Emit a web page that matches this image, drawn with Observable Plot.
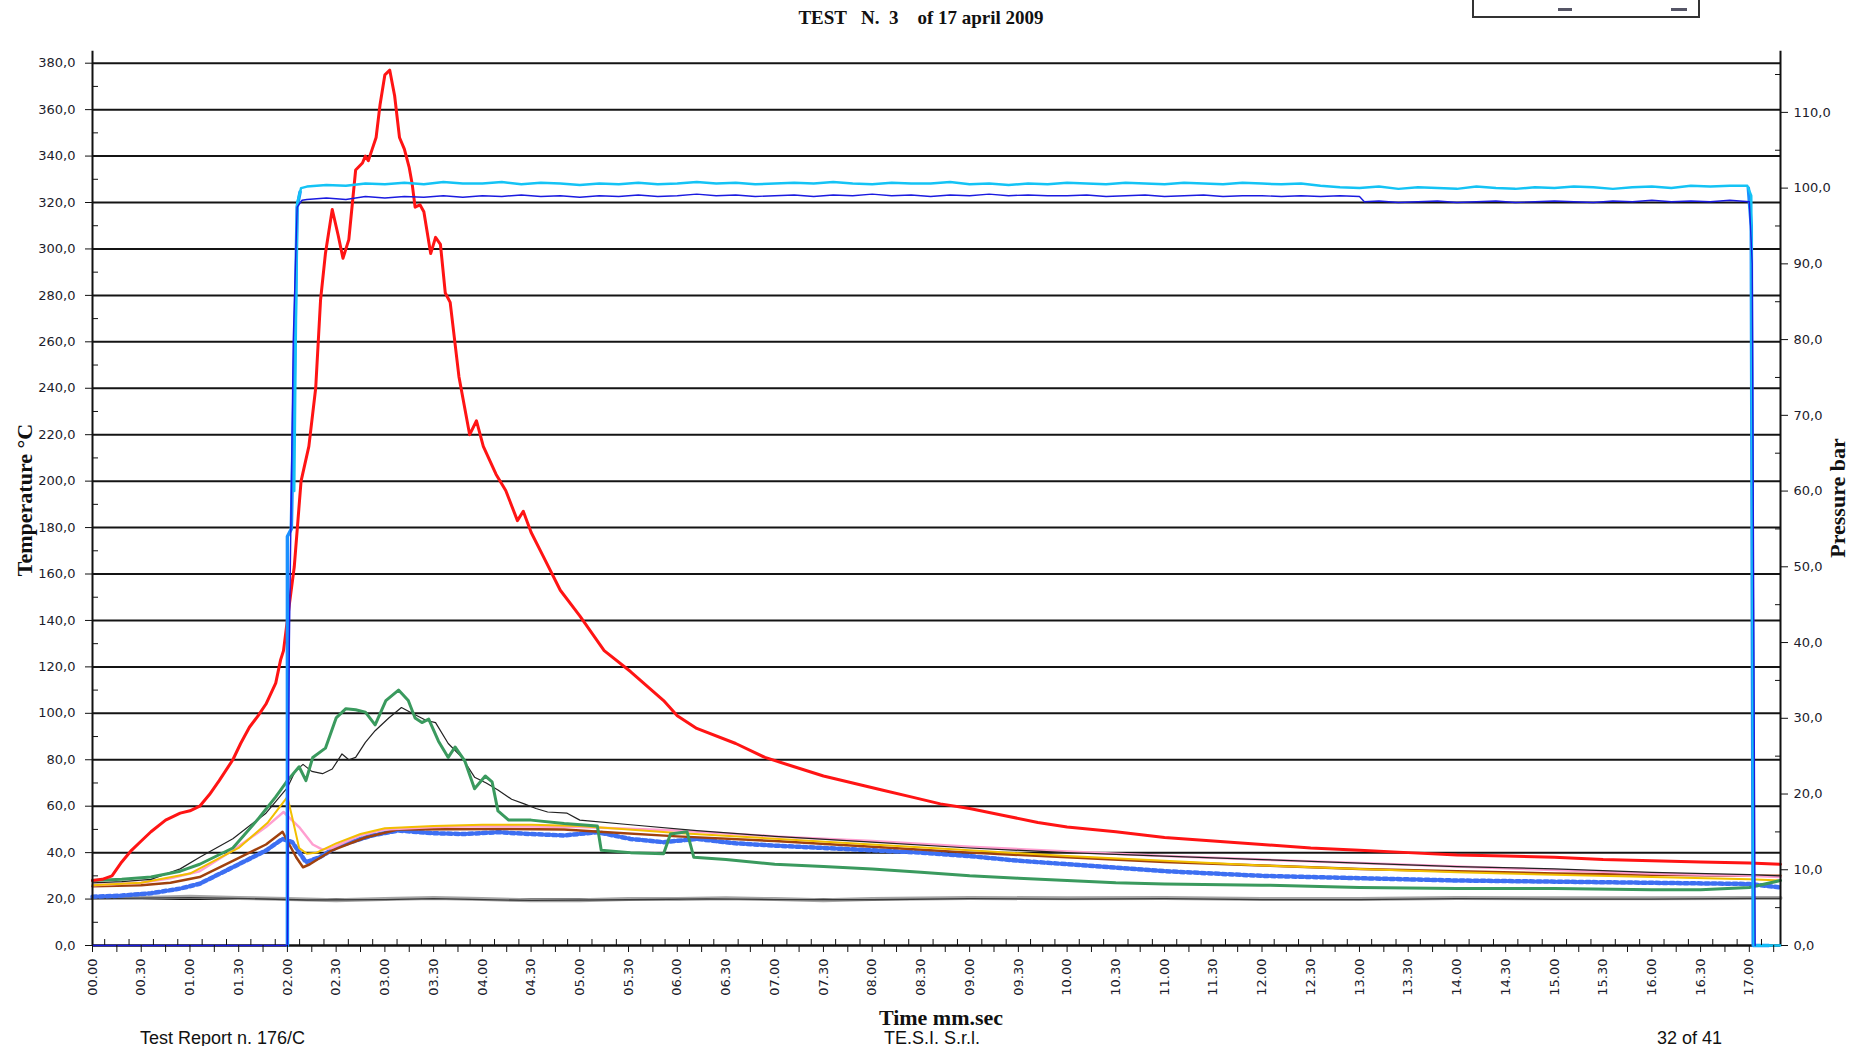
<!DOCTYPE html>
<html>
<head>
<meta charset="utf-8">
<script src="https://cdn.jsdelivr.net/npm/d3@7"></script>
<script src="https://cdn.jsdelivr.net/npm/@observablehq/plot@0.6"></script>
<style>
  body { margin: 0; background: #fff; }
  #wrap { position: relative; width: 1852px; height: 1046px; overflow: hidden; }
  .t { position: absolute; white-space: pre; color: #111; }
  .serif { font-family: "Liberation Serif", "DejaVu Serif", serif; font-weight: bold; }
  .sans { font-family: "Liberation Sans", Arial, sans-serif; }
</style>
</head>
<body>
<div id="wrap">
  <div id="chart"></div>
  <div class="t serif" style="left:921px;top:18px;transform:translate(-50%,-50%);font-size:19px;">TEST   N.  3    of 17 april 2009</div>
  <div style="position:absolute;left:1472px;top:-4px;width:224px;height:20px;border:2px solid #333;border-top:none;"></div>
  <div style="position:absolute;left:1558px;top:8px;width:14px;height:3px;background:#556;"></div>
  <div style="position:absolute;left:1671px;top:8px;width:16px;height:3px;background:#556;"></div>
  <div class="t serif" style="left:25px;top:500px;transform:translate(-50%,-50%) rotate(-90deg);font-size:22px;">Temperature °C</div>
  <div class="t serif" style="left:1838px;top:498px;transform:translate(-50%,-50%) rotate(-90deg);font-size:22px;">Pressure bar</div>
  <div class="t serif" style="left:941px;top:1018px;transform:translate(-50%,-50%);font-size:22px;">Time mm.sec</div>
  <div class="t sans" style="left:140px;top:1038px;transform:translate(0,-50%);font-size:18px;">Test Report n. 176/C</div>
  <div class="t sans" style="left:884px;top:1038px;transform:translate(0,-50%);font-size:18px;">TE.S.I. S.r.l.</div>
  <div class="t sans" style="left:1657px;top:1038px;transform:translate(0,-50%);font-size:18px;">32 of 41</div>
</div>
<script>
// ---------- data: [time in minutes, value] ----------
const xMax = 17.32;
const barToC = 3.262; // secondary axis: 1 bar corresponds to this many °C of the left axis

const redT = [[0,28],[0.1,28.5],[0.2,30],[0.3,36],[0.4,41],[0.5,45],[0.6,49],[0.75,54],[0.9,57],[1.0,58],[1.1,60],[1.2,65],[1.3,71],[1.44,80],[1.52,87],[1.61,94],[1.7,99],[1.78,104],[1.88,113],[1.93,123],[1.96,127],[2.02,147],[2.07,163],[2.14,200],[2.22,215],[2.29,240],[2.34,278],[2.39,298],[2.46,317],[2.52,306],[2.57,296],[2.63,304],[2.70,334],[2.77,337],[2.80,340],[2.83,338],[2.87,343],[2.91,348],[2.95,362],[3.0,375],[3.05,377],[3.1,366],[3.15,348],[3.2,343],[3.25,335],[3.28,328],[3.31,318],[3.36,319],[3.40,316],[3.47,298],[3.52,305],[3.57,302],[3.62,281],[3.67,277],[3.76,245],[3.87,220],[3.94,226],[4.01,215],[4.14,203],[4.24,196],[4.36,183],[4.42,187],[4.5,178],[4.62,168],[4.8,153],[5.0,142],[5.25,127],[5.52,118],[5.86,105.5],[6.0,99],[6.2,93.5],[6.6,87],[6.9,81],[7.2,77],[7.5,73],[7.8,70],[8.1,67],[8.4,64],[8.7,61],[9.0,59],[9.35,56],[9.7,53],[10.0,51],[10.5,49],[11.0,46.5],[11.5,45],[12.0,43.5],[12.5,42],[13.0,41],[13.5,40],[14.0,39],[14.5,38.5],[15.0,38],[15.5,37],[16.0,36.5],[16.5,36],[17.0,35.5],[17.32,35]];

const greenT = [[0,28],[0.3,28.5],[0.6,29.5],[0.9,32],[1.1,35],[1.44,42],[1.71,55],[1.88,64],[2.0,71],[2.12,77],[2.19,71],[2.26,81],[2.39,85],[2.5,98],[2.6,102],[2.7,101.5],[2.8,100.5],[2.9,95],[3.01,105.5],[3.14,110],[3.24,105.5],[3.31,98],[3.38,96],[3.45,97.5],[3.55,88],[3.65,81],[3.72,85.5],[3.82,79.5],[3.92,67.5],[4.03,73],[4.1,70.5],[4.16,58],[4.27,54],[4.5,54],[4.84,52.5],[5.18,51.5],[5.22,41],[5.52,40],[5.86,39.5],[5.93,48],[6.1,49],[6.17,38],[6.5,37],[7.0,35],[7.5,34],[8.0,33],[8.5,31.5],[9.0,30],[9.5,29],[10.0,28],[10.5,27],[11.0,26.5],[12.0,26],[13.0,25],[14.0,24.5],[15.0,24.5],[16.0,24],[16.5,24],[17.0,25],[17.32,28]];

const blackT = [[0,27],[0.3,27.5],[0.6,28.5],[0.9,33],[1.1,38],[1.44,46],[1.78,57],[2.0,68],[2.08,75],[2.16,78],[2.25,75],[2.36,74],[2.46,76],[2.56,82.5],[2.63,80],[2.7,81],[2.8,87.5],[2.9,92.5],[3.04,98],[3.17,102.5],[3.28,100],[3.42,97],[3.52,96],[3.65,87],[3.79,81],[3.92,72.5],[4.04,70],[4.16,67],[4.3,63],[4.43,61],[4.55,59],[4.67,57.5],[4.87,57],[5.0,54],[5.52,52],[6.2,49.5],[7.0,47],[8.0,44.5],[9.0,42],[10.0,40],[11.0,38.5],[12.0,37],[13.0,35.5],[14.0,34],[15.0,33],[16.0,31.5],[17.0,30.5],[17.32,30]];

const yellowT = [[0,26],[0.5,27],[1.0,31],[1.5,42],[1.8,53],[2.0,64],[2.05,55],[2.12,42],[2.2,39.5],[2.3,40],[2.5,44],[2.75,48],[3.0,50.5],[3.5,51.5],[4.0,52],[4.5,52],[5.0,51.5],[5.5,50],[6.0,48.5],[7.0,46],[8.0,43.5],[9.0,41],[10.0,38.5],[11.0,36.5],[12.0,34.5],[13.0,33],[14.0,31.5],[15.0,30.5],[16.0,29.5],[17.0,28.5],[17.32,28]];

const pinkT = [[0,26],[0.5,27],[0.8,29],[1.1,32],[1.44,41],[1.78,51],[1.96,57.5],[2.12,51],[2.26,43.5],[2.36,41.3],[2.45,42],[2.75,47.5],[3.0,50],[3.5,51],[4.0,51.5],[5.0,51],[6.0,49.5],[7.0,47],[8.0,45],[9.0,42.5],[10.0,40.5],[11.0,38.5],[12.0,37],[13.0,35.5],[14.0,34],[15.0,32.5],[16.0,31],[17.0,30],[17.32,29.5]];

const brownT = [[0,25.5],[0.5,26],[0.8,27],[1.1,29.5],[1.44,36.5],[1.78,43.5],[1.95,49],[2.0,45],[2.09,38],[2.16,33.7],[2.23,35],[2.46,41],[2.8,46.5],[3.14,50],[4.16,50.2],[4.84,50],[5.2,49],[6.0,47],[7.0,45],[8.0,42.5],[9.0,40],[10.0,38],[11.0,36],[12.0,34.5],[13.0,33],[14.0,32],[15.0,31],[16.0,30.5],[17.0,30],[17.32,30]];

const blueDotT = [[0,21],[0.3,21.5],[0.6,22.5],[0.9,24.5],[1.1,26.6],[1.44,33.7],[1.78,40.9],[1.95,45.9],[2.05,44.5],[2.19,35.9],[2.33,38],[2.53,43],[2.87,47.4],[3.14,49.5],[3.48,48.4],[3.82,48],[4.16,48.8],[4.5,48],[4.84,47.4],[5.18,48.8],[5.52,45.9],[5.86,44.5],[6.2,45.9],[6.6,44],[7.0,43],[7.5,42],[8.0,41],[8.5,40],[9.0,38.5],[9.5,36.5],[10.0,35],[10.5,33.5],[11.0,32],[11.5,31],[12.0,30],[12.5,29.5],[13.0,29],[14.0,28],[15.0,27.5],[16.0,27],[17.0,26.5],[17.32,25]];

const grayT = [[0,20.5],[0.5,20.5],[1.0,21],[1.5,20.5],[2.0,20],[2.5,19.5],[3.0,20],[3.5,20.5],[4.0,20],[4.5,19.5],[5.0,19.5],[5.5,20],[6.0,20],[6.5,20.3],[7.0,20],[7.5,19.5],[8.0,20],[9.0,20.5],[10.0,20.3],[11.0,20.5],[12.0,20],[13.0,20],[14.0,20.5],[15.0,20.3],[16.0,20.3],[17.0,20.5],[17.32,20.5]];

const darkGrayT = [[0,20.2],[1.0,20.6],[1.6,20.2],[2.2,19.6],[3.0,19.8],[3.5,20.2],[4.5,19.4],[5.5,19.7],[6.3,20.1],[7.0,19.8],[8.0,19.7],[9.0,20.2],[10.0,20.0],[11.0,20.2],[12.0,19.8],[13.0,19.8],[14.0,20.2],[15.0,20.0],[16.0,20.0],[17.0,20.3],[17.32,20.3]];

// pressure series, bar
const darkBlueP = [[0,0],[2.0,0],[2.02,40],[2.06,80],[2.1,97.5],[2.15,98.4],[2.2,98.5],[2.4,98.7],[2.6,98.5],[2.8,98.9],[3.0,98.7],[3.2,98.9],[3.4,98.8],[3.6,99.0],[3.8,98.8],[4.0,99.0],[4.2,98.9],[4.4,99.1],[4.6,98.9],[4.8,99.0],[5.0,98.8],[5.2,99.0],[5.4,98.9],[5.6,99.1],[5.8,98.9],[6.0,99.0],[6.2,99.2],[6.4,99.0],[6.6,99.1],[6.8,98.9],[7.0,99.0],[7.2,99.1],[7.4,98.9],[7.6,99.1],[7.8,99.0],[8.0,99.2],[8.2,99.0],[8.4,99.1],[8.6,98.9],[8.8,99.1],[9.0,99.0],[9.2,99.2],[9.4,99.0],[9.6,99.1],[9.8,99.0],[10.0,99.0],[10.2,99.1],[10.4,98.9],[10.6,99.0],[10.8,99.1],[11.0,98.9],[11.2,99.0],[11.4,99.1],[11.6,98.9],[11.8,99.0],[12.0,99.0],[12.2,98.9],[12.4,99.0],[12.6,98.9],[12.8,99.0],[13.0,98.9],[13.05,98.2],[13.2,98.3],[13.4,98.1],[13.6,98.2],[13.8,98.3],[14.0,98.1],[14.2,98.2],[14.4,98.3],[14.6,98.1],[14.8,98.2],[15.0,98.3],[15.2,98.2],[15.4,98.1],[15.6,98.3],[15.8,98.2],[16.0,98.4],[16.2,98.2],[16.4,98.3],[16.6,98.2],[16.8,98.4],[17.0,98.2],[17.03,90],[17.06,0]];

const cyanP = [[2.07,60],[2.1,98],[2.14,100.0],[2.2,100.2],[2.4,100.4],[2.6,100.3],[2.8,100.6],[3.0,100.5],[3.2,100.7],[3.4,100.5],[3.6,100.8],[3.8,100.6],[4.0,100.6],[4.2,100.8],[4.4,100.5],[4.6,100.7],[4.8,100.6],[5.0,100.4],[5.2,100.6],[5.4,100.5],[5.6,100.7],[5.8,100.5],[6.0,100.6],[6.2,100.8],[6.4,100.6],[6.6,100.7],[6.8,100.5],[7.0,100.6],[7.2,100.7],[7.4,100.6],[7.6,100.8],[7.8,100.6],[8.0,100.5],[8.2,100.7],[8.4,100.6],[8.6,100.6],[8.8,100.8],[9.0,100.5],[9.2,100.6],[9.4,100.4],[9.6,100.6],[9.8,100.5],[10.0,100.7],[10.2,100.6],[10.4,100.5],[10.6,100.7],[10.8,100.6],[11.0,100.5],[11.2,100.7],[11.4,100.6],[11.6,100.5],[11.8,100.7],[12.0,100.6],[12.2,100.5],[12.4,100.6],[12.6,100.3],[12.8,100.1],[13.0,100.0],[13.2,100.2],[13.4,99.9],[13.6,100.1],[13.8,100.0],[14.0,99.9],[14.2,100.2],[14.4,100.0],[14.6,99.9],[14.8,100.1],[15.0,100.0],[15.2,100.2],[15.4,100.1],[15.6,99.9],[15.8,100.1],[16.0,100.2],[16.2,100.0],[16.4,100.3],[16.6,100.2],[16.8,100.3],[16.98,100.3],[17.02,99],[17.05,0],[17.32,0]];

const dodgerP = [[2.0,0],[2.0,54],[2.04,55],[2.07,75],[2.1,97.5],[2.13,99.5],[NaN,NaN],[16.99,100],[17.02,95],[17.04,0],[17.2,0]];

// ticks
const tempMajor = d3.range(0, 381, 20);
const tempMinor = d3.range(10, 380, 20);
const presMajor = d3.range(0, 111, 10);
const presMinor = d3.range(5, 116, 10);
const timeMajor = d3.range(0, 17.3, 0.25);
const timeMinor = d3.range(0.125, 17.3, 0.25);

const fmt1 = v => v.toFixed(1).replace(".", ",");
const fmtTime = t => {
  if (Math.abs(t * 2 - Math.round(t * 2)) > 1e-6) return "";
  const m = Math.floor(t + 1e-9);
  const s = Math.round((t - m) * 60);
  return String(m).padStart(2, "0") + "." + String(s).padStart(2, "0");
};

const X = d => d[0], Y = d => d[1], YP = d => d[1] * barToC;
const tickColor = "#1c1c2c";

const chart = Plot.plot({
  width: 1852,
  height: 1046,
  marginTop: 62.7,
  marginBottom: 101,
  marginLeft: 92,
  marginRight: 72,
  x: {domain: [0, xMax]},
  y: {domain: [0, 380]},
  style: {fontFamily: "'DejaVu Sans', sans-serif", fontSize: "13px", color: tickColor, background: "#fff"},
  marks: [
    Plot.ruleY(tempMajor, {stroke: "#141414", strokeWidth: 2}),
    Plot.line(grayT, {x: X, y: Y, stroke: "#a6a6a6", strokeWidth: 4}),
    Plot.line(darkGrayT, {x: X, y: Y, stroke: "#3a3a3a", strokeWidth: 1.3}),
    Plot.line(blueDotT, {x: X, y: Y, stroke: "#3d6ff2", strokeWidth: 4.5, strokeDasharray: "4,3"}),
    Plot.line(brownT, {x: X, y: Y, stroke: "#a0410d", strokeWidth: 2.5}),
    Plot.line(pinkT, {x: X, y: Y, stroke: "#ff9fd0", strokeWidth: 2.5}),
    Plot.line(yellowT, {x: X, y: Y, stroke: "#f2bf00", strokeWidth: 2}),
    Plot.line(blackT, {x: X, y: Y, stroke: "#222", strokeWidth: 1.2}),
    Plot.line(greenT, {x: X, y: Y, stroke: "#3a9a5e", strokeWidth: 3}),
    Plot.line(redT, {x: X, y: Y, stroke: "#ff1414", strokeWidth: 3}),
    Plot.ruleY([0], {stroke: "#111", strokeWidth: 2}),
    Plot.ruleX([0, xMax], {stroke: "#111", strokeWidth: 2, insetTop: -12}),
    Plot.line(dodgerP, {x: X, y: YP, stroke: "#1a90ff", strokeWidth: 3.5}),
    Plot.line(cyanP, {x: X, y: YP, stroke: "#14c3f5", strokeWidth: 2.5}),
    Plot.line(darkBlueP, {x: X, y: YP, stroke: "#1a1ae0", strokeWidth: 1.4}),
    // left axis
    Plot.axisY({anchor: "left", ticks: tempMajor, tickSize: 7, tickPadding: 10, tickFormat: fmt1, label: null, stroke: "#111"}),
    Plot.axisY({anchor: "left", ticks: tempMinor, tickSize: -6, tickFormat: () => "", label: null, stroke: "#111"}),
    // right axis (bar)
    Plot.axisY({anchor: "right", ticks: presMajor.map(p => p * barToC), tickSize: 7, tickPadding: 6, tickFormat: d => fmt1(d / barToC), label: null, stroke: "#111"}),
    Plot.axisY({anchor: "right", ticks: presMinor.map(p => p * barToC), tickSize: -6, tickFormat: () => "", label: null, stroke: "#111"}),
    // time axis
    Plot.axisX({ticks: timeMajor, tickSize: 7, tickPadding: 6, tickRotate: -90, tickFormat: fmtTime, label: null, stroke: "#111"}),
    Plot.axisX({ticks: timeMinor, tickSize: -6, tickFormat: () => "", label: null, stroke: "#111"})
  ]
});
document.getElementById("chart").appendChild(chart);
</script>
</body>
</html>
